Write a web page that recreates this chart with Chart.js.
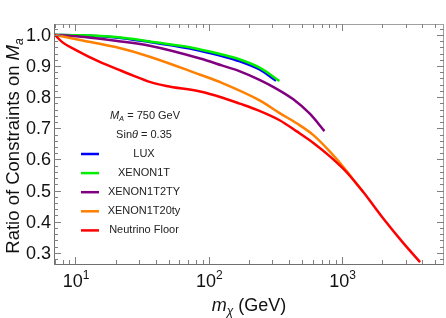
<!DOCTYPE html>
<html>
<head>
<meta charset="utf-8">
<script src="https://cdn.jsdelivr.net/npm/chart.js@4.4.0/dist/chart.umd.min.js"></script>
<style>
  html, body { margin: 0; padding: 0; background: #fff; }
  #wrap { width: 446px; height: 318px; }
</style>
</head>
<body>
<div id="wrap"><canvas id="ratioChart"></canvas></div>
<script>
// series (mass in GeV, ratio of constraints)
var seriesNames  = ["LUX", "XENON1T", "XENON1T2TY", "XENON1T20ty", "Neutrino Floor"];
var seriesColors = ["#0000ff", "#00ee00", "#800080", "#ff8000", "#ff0000"];

var luxMass   = [7, 10, 20, 36, 72, 86, 125, 171, 242, 319];
var luxRatio  = [1.0, 0.999, 0.992, 0.977, 0.956, 0.949, 0.932, 0.915, 0.888, 0.853];

var x1tMass   = [7, 10, 20, 36, 72, 86, 125, 171, 242, 338];
var x1tRatio  = [1.0, 0.999, 0.993, 0.979, 0.960, 0.953, 0.937, 0.921, 0.894, 0.852];

var x2tyMass  = [7, 11.7, 20, 36, 86, 125, 171, 242, 313, 430, 574, 736];
var x2tyRatio = [1.0, 0.993, 0.981, 0.965, 0.924, 0.902, 0.883, 0.855, 0.830, 0.793, 0.746, 0.691];

var x20tyMass  = [7, 11.3, 20, 36, 86, 125, 242, 342, 456, 608, 813, 1084, 1253, 1439];
var x20tyRatio = [1.0, 0.982, 0.961, 0.930, 0.872, 0.846, 0.789, 0.748, 0.716, 0.678, 0.624, 0.562, 0.527, 0.495];

var nuMass  = [7, 8, 10, 15.2, 20.3, 26.8, 36, 48, 86, 125, 171, 242, 342, 456, 608, 813, 1084, 1439, 2032, 2876, 3838];
var nuRatio = [1.0, 0.976, 0.952, 0.913, 0.891, 0.870, 0.849, 0.836, 0.818, 0.799, 0.779, 0.755, 0.725, 0.690, 0.653, 0.609, 0.558, 0.495, 0.410, 0.331, 0.270];

var xMajorTicks = [10, 100, 1000];
var xTickExps   = ["1", "2", "3"];
var yMajorTicks = [0.3, 0.4, 0.5, 0.6, 0.7, 0.8, 0.9, 1.0];

var allMass  = [luxMass, x1tMass, x2tyMass, x20tyMass, nuMass];
var allRatio = [luxRatio, x1tRatio, x2tyRatio, x20tyRatio, nuRatio];
var drawOrder = [5, 4, 3, 2, 1];

function pts(m, r) {
  return m.map(function (v, i) { return { x: v, y: r[i] }; });
}

var datasets = seriesNames.map(function (name, i) {
  return {
    label: name,
    data: pts(allMass[i], allRatio[i]),
    borderColor: seriesColors[i],
    borderWidth: 2.5,
    pointRadius: 0,
    showLine: true,
    fill: false,
    cubicInterpolationMode: 'monotone',
    order: drawOrder[i]
  };
});

var FONT = '"Liberation Sans", Arial, sans-serif';

// draw a run of text pieces, centred on x
function drawRich(ctx, parts, x, y) {
  var w = 0;
  parts.forEach(function (p) { ctx.font = p.font; w += ctx.measureText(p.t).width; });
  var cx = x - w / 2;
  parts.forEach(function (p) {
    ctx.font = p.font;
    ctx.fillText(p.t, cx, y + (p.dy || 0));
    cx += ctx.measureText(p.t).width;
  });
}

var decor = {
  id: 'decor',
  afterDraw: function (chart) {
    var ctx = chart.ctx, a = chart.chartArea;
    var xs = chart.scales.x, ys = chart.scales.y;
    ctx.save();

    // frame
    ctx.lineWidth = 1;
    ctx.strokeStyle = '#a0a0a0';
    ctx.strokeRect(a.left + 0.5, a.top + 0.5, a.right - a.left - 1, a.bottom - a.top);
    ctx.strokeStyle = '#707070';
    ctx.beginPath();
    ctx.moveTo(a.left + 0.5, a.top); ctx.lineTo(a.left + 0.5, a.bottom + 0.5);
    ctx.lineTo(a.right, a.bottom + 0.5);
    ctx.stroke();

    // x ticks (inside, bottom and top)
    ctx.strokeStyle = '#808080';
    ctx.beginPath();
    for (var e = 0; e <= 3; e++) {
      for (var k = 1; k <= 9; k++) {
        var v = k * Math.pow(10, e);
        if (v < xs.min || v > xs.max) continue;
        var px = Math.round(xs.getPixelForValue(v)) + 0.5;
        var len = (k === 1) ? 7 : 4;
        ctx.moveTo(px, a.bottom); ctx.lineTo(px, a.bottom - len);
        ctx.moveTo(px, a.top); ctx.lineTo(px, a.top + len);
      }
    }
    // y ticks (inside, left and right)
    for (var j = 0; j <= 60; j++) {
      var yv = 0.2 + j * 0.02;
      if (yv < ys.min || yv > ys.max) continue;
      var py = Math.round(ys.getPixelForValue(yv)) + 0.5;
      var major = (j % 5 === 0);
      var ln = major ? 7 : 4;
      ctx.moveTo(a.left, py); ctx.lineTo(a.left + ln, py);
      ctx.moveTo(a.right, py); ctx.lineTo(a.right - ln, py);
    }
    ctx.stroke();

    // y tick labels
    ctx.fillStyle = '#111';
    ctx.font = '18px ' + FONT;
    ctx.textAlign = 'right';
    ctx.textBaseline = 'middle';
    yMajorTicks.forEach(function (t) {
      ctx.fillText(t.toFixed(1), a.left - 3, ys.getPixelForValue(t) + 1);
    });

    // x tick labels 10^n
    ctx.textAlign = 'left';
    ctx.textBaseline = 'alphabetic';
    xMajorTicks.forEach(function (t, i) {
      drawRich(ctx, [
        { t: '10', font: '18px ' + FONT },
        { t: xTickExps[i], font: '12px ' + FONT, dy: -8 }
      ], xs.getPixelForValue(t) + 0.5, 287);
    });

    // x title
    drawRich(ctx, [
      { t: 'm', font: 'italic 18px ' + FONT },
      { t: 'χ', font: 'italic 12px ' + FONT, dy: 4 },
      { t: ' (GeV)', font: '18px ' + FONT }
    ], 249, 311);

    // y title
    ctx.save();
    ctx.translate(19, 146);
    ctx.rotate(-Math.PI / 2);
    drawRich(ctx, [
      { t: 'Ratio of Constraints on ', font: '18.5px ' + FONT },
      { t: 'M', font: 'italic 18.5px ' + FONT },
      { t: 'a', font: 'italic 12px ' + FONT, dy: 4 }
    ], 0, 0);
    ctx.restore();

    // annotations
    ctx.fillStyle = '#222';
    ctx.textBaseline = 'middle';
    drawRich(ctx, [
      { t: 'M', font: 'italic 11px ' + FONT },
      { t: 'A', font: 'italic 7.5px ' + FONT, dy: 3 },
      { t: ' = 750 GeV', font: '11px ' + FONT }
    ], 145, 116);
    drawRich(ctx, [
      { t: 'Sin', font: '11px ' + FONT },
      { t: 'θ', font: 'italic 11px ' + FONT },
      { t: ' = 0.35', font: '11px ' + FONT }
    ], 144, 135);

    // legend
    seriesNames.forEach(function (name, i) {
      var ly = 154 + 19.1 * i;
      ctx.strokeStyle = seriesColors[i];
      ctx.lineWidth = 2.5;
      ctx.beginPath();
      ctx.moveTo(81, ly); ctx.lineTo(99, ly);
      ctx.stroke();
      ctx.fillStyle = '#222';
      ctx.font = '11px ' + FONT;
      ctx.textAlign = 'center';
      ctx.fillText(name, 144, ly);
    });

    ctx.restore();
  }
};

var ctxR = document.getElementById('ratioChart').getContext('2d');
var ratioChart = new Chart(ctxR, {
  type: 'scatter',
  data: { datasets: datasets },
  options: {
    responsive: true,
    maintainAspectRatio: false,
    animation: false,
    layout: { padding: { left: 54, right: 2, top: 24, bottom: 54 } },
    plugins: { legend: { display: false }, tooltip: { enabled: false } },
    scales: {
      x: { type: 'logarithmic', min: 6.9, max: 5800, display: false },
      y: { type: 'linear', min: 0.264, max: 1.035, display: false }
    }
  },
  plugins: [decor]
});
</script>
</body>
</html>
